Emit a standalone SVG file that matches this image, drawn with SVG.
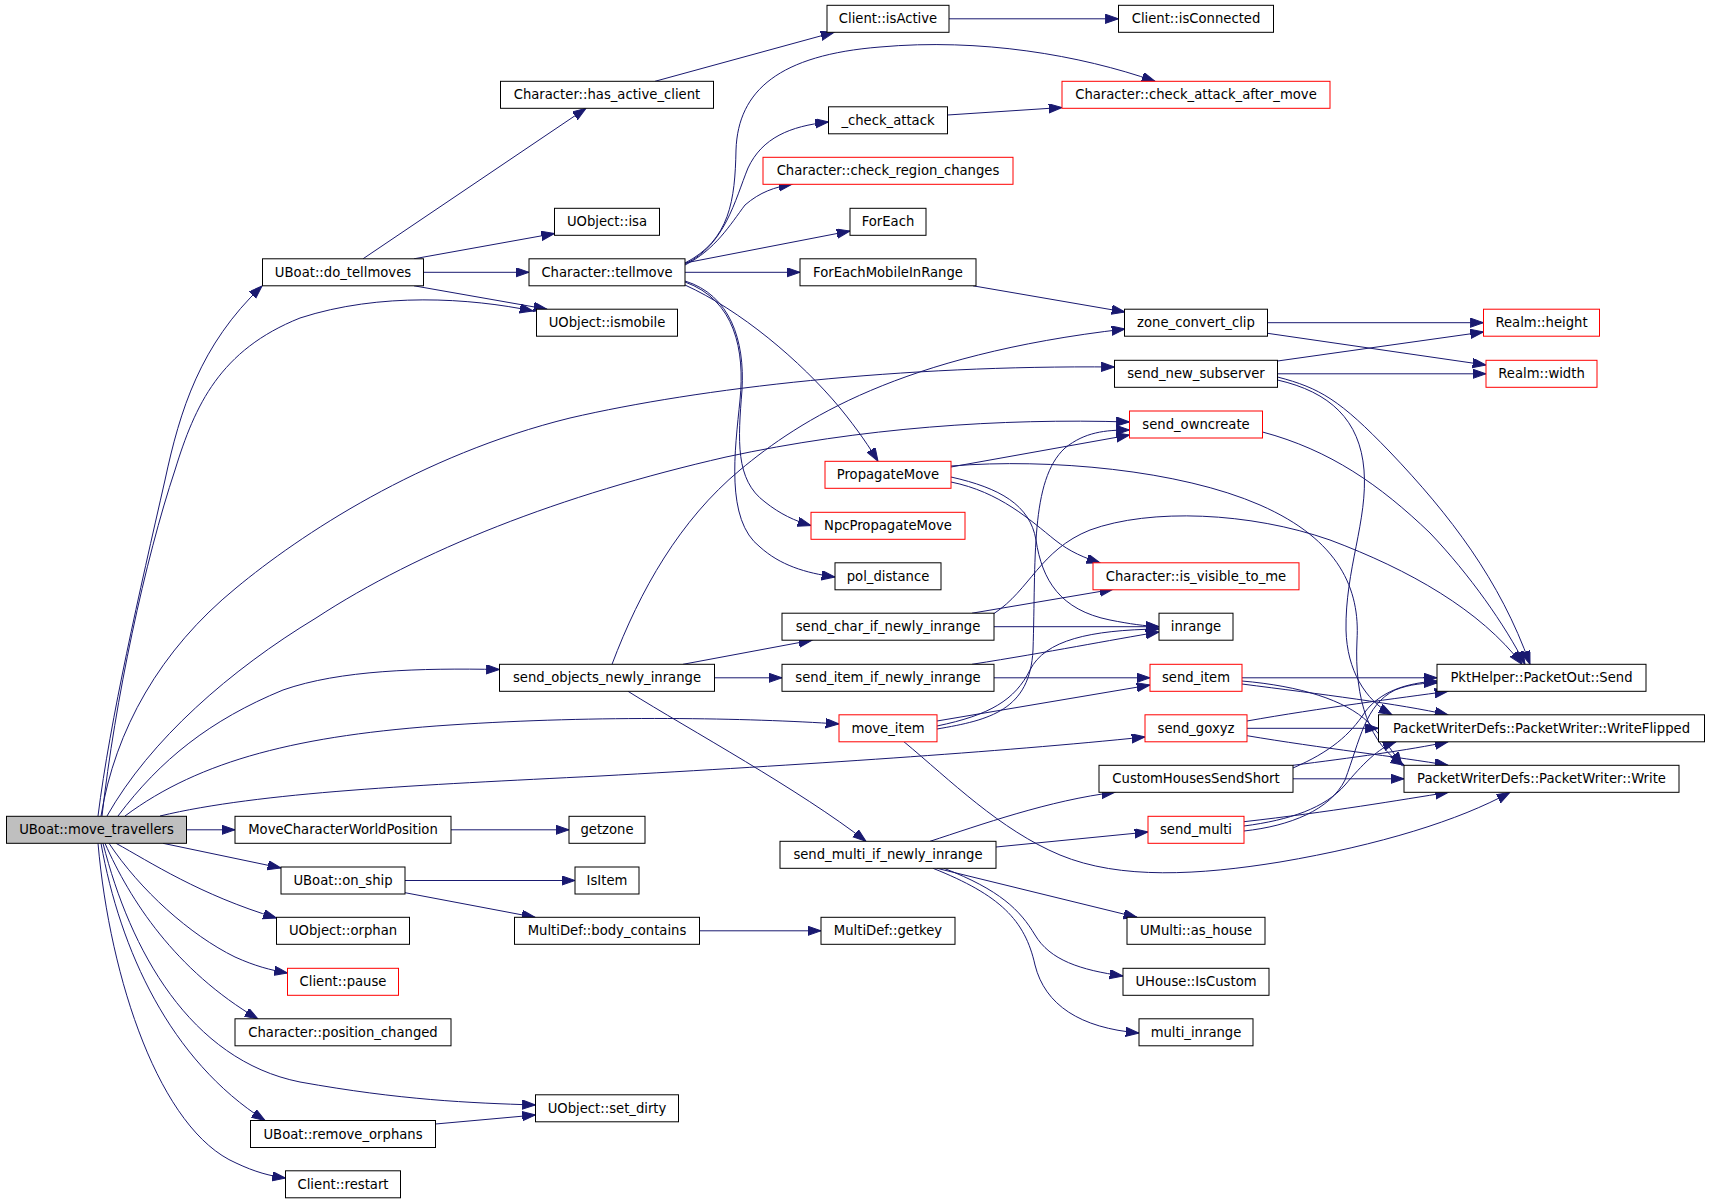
<svg xmlns="http://www.w3.org/2000/svg" width="1709" height="1203" viewBox="0 0 1709 1203">
<defs>
<marker id="a" markerUnits="userSpaceOnUse" markerWidth="15" markerHeight="11" refX="13.3" refY="4.65" orient="auto"><path d="M0,0 L13.3,4.65 L0,9.3 z" fill="#191970" stroke="#191970" stroke-width="1"/></marker>
<style>
.e path{fill:none;stroke:#191970;stroke-width:1;marker-end:url(#a)}
.n rect{fill:#fff;stroke:#000;stroke-width:1}
.n.r rect{stroke:#f00}
.n.g rect{fill:#bfbfbf}
.n text{font-family:"DejaVu Sans","Liberation Sans",sans-serif;font-size:13.2px;fill:#000;text-anchor:middle}
</style>
</defs>
<rect width="1709" height="1203" fill="#fff"/>
<g id="edges" class="e">
<path d="M98,816 C110,720 140,590 165,480 C180,410 200,345 262,286"/>
<path d="M102,816 C115,700 145,560 175,470 C195,405 220,350 300,318 C380,292 470,298 533,311"/>
<path d="M101,816 C115,730 160,650 236,588 C300,535 420,455 570,418 C700,388 900,365 1114.5,367"/>
<path d="M107,816 C150,740 230,670 316,618 C420,550 560,495 726,457 C860,428 1000,418 1129.5,422"/>
<path d="M118,816 C160,760 210,720 283,690 C340,670 420,668 499.5,669.5"/>
<path d="M125,816 C200,760 300,735 450,725 C600,715 750,718 839,724"/>
<path d="M160,816 C260,792 420,785 600,776 C800,765 1000,752 1145,737"/>
<path d="M186.5,829.8 L235,829.8"/>
<path d="M163,843.3 L281,868"/>
<path d="M116,843.3 C150,862 200,895 276.5,918"/>
<path d="M109,843.3 C140,890 190,935 235,957 C255,966 270,970 287.5,973"/>
<path d="M105,843.3 C130,900 175,970 258,1019"/>
<path d="M103,843.3 C130,950 190,1060 300,1082 C400,1100 470,1103 535.5,1105"/>
<path d="M101,843.3 C120,950 170,1060 265,1120.5"/>
<path d="M98,843.3 C110,980 160,1130 236,1163 C255,1172 270,1176 285.5,1178"/>
<path d="M363,258.8 L586,108.3"/>
<path d="M414,258.8 L554.5,233.5"/>
<path d="M423.5,272.3 L529,272.3"/>
<path d="M414,285.8 L547,309.2"/>
<path d="M655,81.3 L834,32.3"/>
<path d="M949,18.8 L1118.5,18.8"/>
<path d="M685,263 C730,240 735,200 736,150 C738,90 780,55 880,47 C980,38 1080,55 1155,81.3"/>
<path d="M685,264 C725,245 735,200 748,168 C762,138 790,126 828.5,122"/>
<path d="M685,265 C715,250 730,225 745,205 C760,192 775,187 792,184.3"/>
<path d="M685,263 L850,231"/>
<path d="M685,272.3 L800,272.3"/>
<path d="M685,285 C740,310 800,360 840,408 C858,430 870,448 878,461.3"/>
<path d="M685,281 C730,295 745,340 742,390 C738,440 735,480 765,502 C780,514 795,521 811,525.5"/>
<path d="M685,282 C735,300 745,350 740,400 C735,450 725,520 760,547 C780,565 805,573 835,577"/>
<path d="M947.5,115 L1062,107.5"/>
<path d="M973,285.8 L1125,312"/>
<path d="M1267.5,322.7 L1483.5,322.7"/>
<path d="M1267.5,333.3 L1486,365"/>
<path d="M1277.5,361 L1483.5,332"/>
<path d="M1277.5,373.8 L1486,373.8"/>
<path d="M1277.5,377 C1320,388 1340,400 1390,452 C1450,515 1500,580 1530,664.3"/>
<path d="M1277.5,380 C1330,392 1360,420 1364,470 C1368,520 1345,570 1346,630 C1347,670 1365,700 1392,714.8"/>
<path d="M612,664.3 C640,590 680,520 740,470 C800,420 900,355 1125,329"/>
<path d="M683,664.3 L812,640.2"/>
<path d="M714.5,677.8 L782,677.8"/>
<path d="M628,691.3 C690,730 800,790 866,841.3"/>
<path d="M951,467 L1129.5,435"/>
<path d="M951,482 C1000,492 1030,520 1055,540 C1070,552 1085,558 1100,562.8"/>
<path d="M951,477 C1000,488 1030,505 1036,540 C1042,580 1060,610 1110,620 C1130,624 1145,626 1159,626.7"/>
<path d="M951,466 C1050,458 1180,470 1260,505 C1340,540 1360,590 1357,640 C1354,700 1370,745 1404,765.3"/>
<path d="M1262.5,432 C1330,450 1380,485 1430,533 C1470,575 1505,625 1525,664.3"/>
<path d="M994,613.5 C1030,590 1040,550 1090,530 C1150,508 1250,512 1330,540 C1410,570 1480,610 1522,664.3"/>
<path d="M972,613.2 L1113,589.3"/>
<path d="M994,626.7 L1159,626.7"/>
<path d="M972,664.3 C1050,652 1110,640 1159,632"/>
<path d="M994,677.8 L1150,677.8"/>
<path d="M937,721 L1150,685"/>
<path d="M937,726 C990,715 1015,700 1030,670 C1045,640 1090,630 1159,629"/>
<path d="M937,729 C990,720 1030,710 1033,650 C1036,560 1030,480 1065,448 C1085,432 1105,430 1129.5,430"/>
<path d="M904,741.8 C950,780 1000,830 1060,855 C1120,880 1200,875 1280,862 C1380,845 1460,820 1510,792.3"/>
<path d="M1242,677.8 L1437,677.8"/>
<path d="M1242,684 C1320,694 1400,704 1448,714.8"/>
<path d="M1242,681 C1300,686 1345,700 1368,722 C1385,740 1395,755 1402,765.3"/>
<path d="M1247,721 C1320,708 1400,698 1448,691.3"/>
<path d="M1247,728.3 L1378.5,728.3"/>
<path d="M1247,735.7 C1320,748 1400,757 1448,765.3"/>
<path d="M1293,768 C1330,752 1350,735 1365,712 C1380,692 1405,683 1437,681"/>
<path d="M1293,765.3 C1350,758 1410,750 1448,741.8"/>
<path d="M1293,778.8 L1404,778.8"/>
<path d="M930,841.3 C980,825 1050,800 1115,792.3"/>
<path d="M996,847 L1148,832"/>
<path d="M937,868.3 L1137,917.3"/>
<path d="M944,868.3 C1000,890 1020,910 1035,935 C1050,960 1080,970 1123,976"/>
<path d="M933,868.3 C1000,895 1025,920 1035,965 C1045,1005 1080,1028 1139,1033"/>
<path d="M1244,831 C1290,826 1330,810 1345,780 C1360,740 1365,705 1395,690 C1410,684 1425,683 1437,683"/>
<path d="M1244,826 C1290,820 1325,808 1345,785 C1362,765 1378,748 1396,741.8"/>
<path d="M1244,821.7 C1330,812 1400,800 1448.5,792.3"/>
<path d="M451,829.8 L569,829.8"/>
<path d="M405,880.5 L575,880.5"/>
<path d="M405,892.7 L535,917.3"/>
<path d="M699.5,930.8 L821,930.8"/>
<path d="M435.5,1124 L535.5,1115"/>
</g>
<g id="node_move_travellers" class="n g"><rect x="6.5" y="816.3" width="180" height="27"/><text x="96.5" y="834.3">UBoat::move_travellers</text></g>
<g id="node_do_tellmoves" class="n"><rect x="262.5" y="258.8" width="161" height="27"/><text x="343" y="276.8">UBoat::do_tellmoves</text></g>
<g id="node_MoveCharacterWorldPosition" class="n"><rect x="235" y="816.3" width="216" height="27"/><text x="343" y="834.3">MoveCharacterWorldPosition</text></g>
<g id="node_on_ship" class="n"><rect x="281" y="867" width="124" height="27"/><text x="343" y="885">UBoat::on_ship</text></g>
<g id="node_orphan" class="n"><rect x="276.5" y="917.3" width="133" height="27"/><text x="343" y="935.3">UObject::orphan</text></g>
<g id="node_pause" class="n r"><rect x="287.5" y="968.3" width="111" height="27"/><text x="343" y="986.3">Client::pause</text></g>
<g id="node_position_changed" class="n"><rect x="235" y="1018.8" width="216" height="27"/><text x="343" y="1036.8">Character::position_changed</text></g>
<g id="node_remove_orphans" class="n"><rect x="250.5" y="1120.5" width="185" height="27"/><text x="343" y="1138.5">UBoat::remove_orphans</text></g>
<g id="node_restart" class="n"><rect x="285.5" y="1170.8" width="115" height="27"/><text x="343" y="1188.8">Client::restart</text></g>
<g id="node_has_active_client" class="n"><rect x="500.5" y="81.3" width="213" height="27"/><text x="607" y="99.3">Character::has_active_client</text></g>
<g id="node_isa" class="n"><rect x="554.5" y="208.3" width="105" height="27"/><text x="607" y="226.3">UObject::isa</text></g>
<g id="node_tellmove" class="n"><rect x="529" y="258.8" width="156" height="27"/><text x="607" y="276.8">Character::tellmove</text></g>
<g id="node_ismobile" class="n"><rect x="536.5" y="309.2" width="141" height="27"/><text x="607" y="327.2">UObject::ismobile</text></g>
<g id="node_send_objects_newly_inrange" class="n"><rect x="499.5" y="664.3" width="215" height="27"/><text x="607" y="682.3">send_objects_newly_inrange</text></g>
<g id="node_getzone" class="n"><rect x="569" y="816.3" width="76" height="27"/><text x="607" y="834.3">getzone</text></g>
<g id="node_IsItem" class="n"><rect x="575" y="867" width="64" height="27"/><text x="607" y="885">IsItem</text></g>
<g id="node_body_contains" class="n"><rect x="514.5" y="917.3" width="185" height="27"/><text x="607" y="935.3">MultiDef::body_contains</text></g>
<g id="node_set_dirty" class="n"><rect x="535.5" y="1094.8" width="143" height="27"/><text x="607" y="1112.8">UObject::set_dirty</text></g>
<g id="node_isActive" class="n"><rect x="827" y="5.3" width="122" height="27"/><text x="888" y="23.3">Client::isActive</text></g>
<g id="node_check_attack" class="n"><rect x="828.5" y="106.8" width="119" height="27"/><text x="888" y="124.8">_check_attack</text></g>
<g id="node_check_region_changes" class="n r"><rect x="763" y="157.3" width="250" height="27"/><text x="888" y="175.3">Character::check_region_changes</text></g>
<g id="node_ForEach" class="n"><rect x="850" y="208.3" width="76" height="27"/><text x="888" y="226.3">ForEach</text></g>
<g id="node_ForEachMobileInRange" class="n"><rect x="800" y="258.8" width="176" height="27"/><text x="888" y="276.8">ForEachMobileInRange</text></g>
<g id="node_PropagateMove" class="n r"><rect x="825" y="461.3" width="126" height="27"/><text x="888" y="479.3">PropagateMove</text></g>
<g id="node_NpcPropagateMove" class="n r"><rect x="811" y="512.3" width="154" height="27"/><text x="888" y="530.3">NpcPropagateMove</text></g>
<g id="node_pol_distance" class="n"><rect x="835" y="562.8" width="106" height="27"/><text x="888" y="580.8">pol_distance</text></g>
<g id="node_send_char_if_newly_inrange" class="n"><rect x="782" y="613.2" width="212" height="27"/><text x="888" y="631.2">send_char_if_newly_inrange</text></g>
<g id="node_send_item_if_newly_inrange" class="n"><rect x="782" y="664.3" width="212" height="27"/><text x="888" y="682.3">send_item_if_newly_inrange</text></g>
<g id="node_move_item" class="n r"><rect x="839" y="714.8" width="98" height="27"/><text x="888" y="732.8">move_item</text></g>
<g id="node_send_multi_if_newly_inrange" class="n"><rect x="780" y="841.3" width="216" height="27"/><text x="888" y="859.3">send_multi_if_newly_inrange</text></g>
<g id="node_getkey" class="n"><rect x="821" y="917.3" width="134" height="27"/><text x="888" y="935.3">MultiDef::getkey</text></g>
<g id="node_isConnected" class="n"><rect x="1118.5" y="5.3" width="155" height="27"/><text x="1196" y="23.3">Client::isConnected</text></g>
<g id="node_check_attack_after_move" class="n r"><rect x="1062" y="81.3" width="268" height="27"/><text x="1196" y="99.3">Character::check_attack_after_move</text></g>
<g id="node_zone_convert_clip" class="n"><rect x="1124.5" y="309.2" width="143" height="27"/><text x="1196" y="327.2">zone_convert_clip</text></g>
<g id="node_send_new_subserver" class="n"><rect x="1114.5" y="360.3" width="163" height="27"/><text x="1196" y="378.3">send_new_subserver</text></g>
<g id="node_send_owncreate" class="n r"><rect x="1129.5" y="411" width="133" height="27"/><text x="1196" y="429">send_owncreate</text></g>
<g id="node_is_visible_to_me" class="n r"><rect x="1093" y="562.8" width="206" height="27"/><text x="1196" y="580.8">Character::is_visible_to_me</text></g>
<g id="node_inrange" class="n"><rect x="1159" y="613.2" width="74" height="27"/><text x="1196" y="631.2">inrange</text></g>
<g id="node_send_item" class="n r"><rect x="1150" y="664.3" width="92" height="27"/><text x="1196" y="682.3">send_item</text></g>
<g id="node_send_goxyz" class="n r"><rect x="1145" y="714.8" width="102" height="27"/><text x="1196" y="732.8">send_goxyz</text></g>
<g id="node_CustomHousesSendShort" class="n"><rect x="1099" y="765.3" width="194" height="27"/><text x="1196" y="783.3">CustomHousesSendShort</text></g>
<g id="node_send_multi" class="n r"><rect x="1148" y="816.3" width="96" height="27"/><text x="1196" y="834.3">send_multi</text></g>
<g id="node_as_house" class="n"><rect x="1127" y="917.3" width="138" height="27"/><text x="1196" y="935.3">UMulti::as_house</text></g>
<g id="node_IsCustom" class="n"><rect x="1123" y="968.3" width="146" height="27"/><text x="1196" y="986.3">UHouse::IsCustom</text></g>
<g id="node_multi_inrange" class="n"><rect x="1139" y="1018.8" width="114" height="27"/><text x="1196" y="1036.8">multi_inrange</text></g>
<g id="node_Realm_height" class="n r"><rect x="1483.5" y="309.2" width="116" height="27"/><text x="1541.5" y="327.2">Realm::height</text></g>
<g id="node_Realm_width" class="n r"><rect x="1486" y="360.3" width="111" height="27"/><text x="1541.5" y="378.3">Realm::width</text></g>
<g id="node_Send" class="n"><rect x="1437" y="664.3" width="209" height="27"/><text x="1541.5" y="682.3">PktHelper::PacketOut::Send</text></g>
<g id="node_WriteFlipped" class="n"><rect x="1378.5" y="714.8" width="326" height="27"/><text x="1541.5" y="732.8">PacketWriterDefs::PacketWriter::WriteFlipped</text></g>
<g id="node_Write" class="n"><rect x="1404" y="765.3" width="275" height="27"/><text x="1541.5" y="783.3">PacketWriterDefs::PacketWriter::Write</text></g>
</svg>
